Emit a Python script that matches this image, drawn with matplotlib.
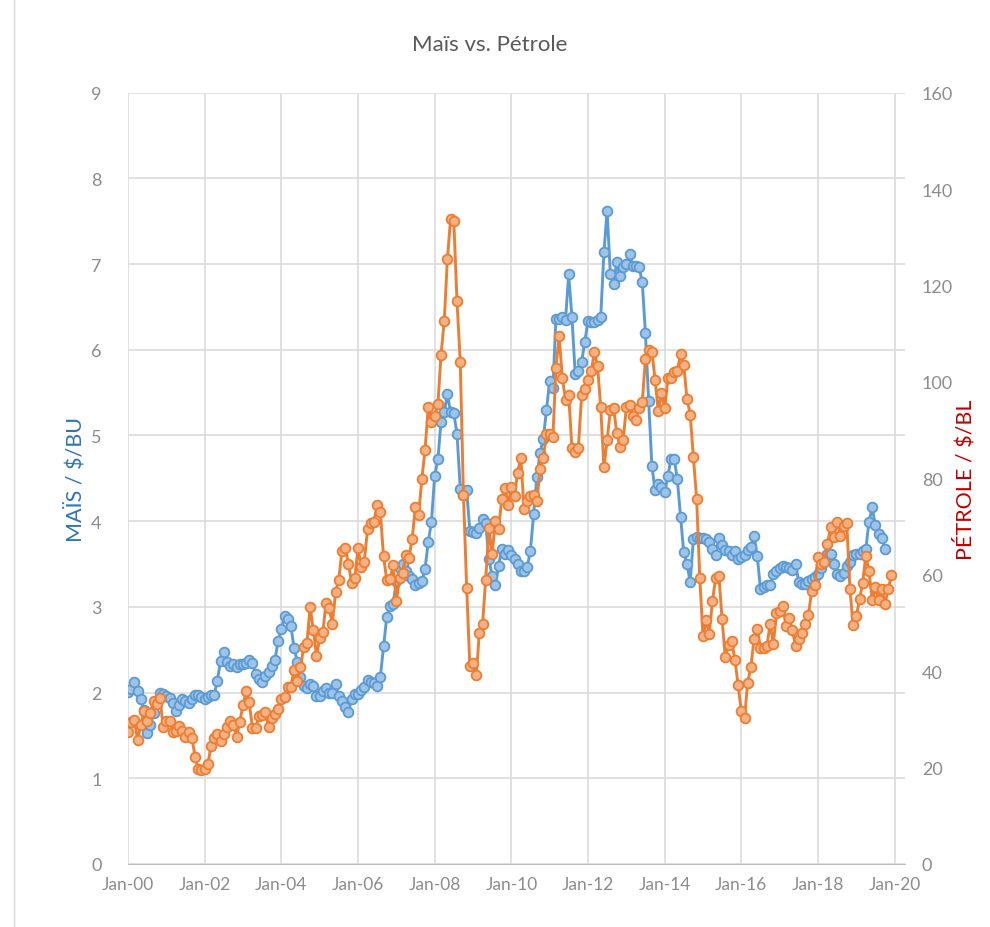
import numpy as np
import pandas as pd
import matplotlib.pyplot as plt
import matplotlib.dates as mdates

# monthly corn price ($/bu), Jan 2000 - Oct 2019
corn = [
    2.01, 2.04, 2.12, 2.02, 1.92, 1.80, 1.53, 1.62, 1.76, 1.88, 2.00, 1.98,  # 2000
    1.96, 1.94, 1.88, 1.78, 1.85, 1.93, 1.90, 1.88, 1.92, 1.97, 1.97, 1.95,  # 2001
    1.93, 1.95, 1.97, 1.97, 2.14, 2.37, 2.47, 2.36, 2.31, 2.33, 2.30, 2.33,  # 2002
    2.33, 2.35, 2.38, 2.34, 2.22, 2.16, 2.12, 2.19, 2.24, 2.31, 2.38, 2.60,  # 2003
    2.74, 2.89, 2.86, 2.78, 2.52, 2.36, 2.18, 2.08, 2.05, 2.10, 2.08, 1.96,  # 2004
    1.96, 2.02, 2.05, 1.99, 2.00, 2.10, 1.96, 1.90, 1.83, 1.77, 1.93, 1.98,  # 2005
    1.98, 2.03, 2.06, 2.15, 2.12, 2.11, 2.08, 2.18, 2.54, 2.88, 3.01, 3.03,  # 2006
    3.30, 3.45, 3.50, 3.42, 3.36, 3.33, 3.25, 3.28, 3.30, 3.44, 3.76, 3.99,  # 2007
    4.53, 4.72, 5.16, 5.27, 5.48, 5.27, 5.26, 5.02, 4.38, 4.30, 4.36, 3.89,  # 2008
    3.87, 3.86, 3.92, 4.03, 3.98, 3.56, 3.36, 3.25, 3.48, 3.68, 3.62, 3.66,  # 2009
    3.60, 3.56, 3.50, 3.42, 3.42, 3.47, 3.65, 4.08, 4.52, 4.80, 4.96, 5.30,  # 2010
    5.64, 5.55, 6.36, 6.36, 6.38, 6.35, 6.88, 6.38, 5.72, 5.75, 5.86, 6.09,  # 2011
    6.34, 6.32, 6.33, 6.35, 6.38, 7.14, 7.62, 6.88, 6.77, 7.02, 6.86, 6.97,  # 2012
    7.00, 7.12, 6.98, 6.98, 6.97, 6.79, 6.20, 5.40, 4.64, 4.36, 4.43, 4.40,  # 2013
    4.34, 4.53, 4.73, 4.73, 4.49, 4.05, 3.64, 3.50, 3.29, 3.79, 3.81, 3.80,  # 2014
    3.80, 3.79, 3.76, 3.68, 3.60, 3.80, 3.72, 3.66, 3.65, 3.60, 3.65, 3.56,  # 2015
    3.58, 3.60, 3.66, 3.70, 3.83, 3.59, 3.21, 3.23, 3.25, 3.25, 3.38, 3.42,  # 2016
    3.45, 3.48, 3.46, 3.45, 3.43, 3.50, 3.29, 3.27, 3.27, 3.30, 3.32, 3.35,  # 2017
    3.38, 3.45, 3.55, 3.62, 3.62, 3.50, 3.38, 3.36, 3.40, 3.48, 3.52, 3.60,  # 2018
    3.62, 3.62, 3.65, 3.67, 3.99, 4.16, 3.95, 3.85, 3.80, 3.68,              # 2019
]

# monthly oil price ($/bl), Jan 2000 - Dec 2019
oil = [
    27.3, 29.4, 29.8, 25.7, 28.8, 31.8, 29.7, 31.3, 33.9, 33.1, 34.4, 28.4,
    29.6, 29.6, 27.3, 27.5, 28.6, 27.6, 26.4, 27.4, 26.2, 22.2, 19.6, 19.4,
    19.7, 20.7, 24.5, 26.2, 27.0, 25.5, 27.0, 28.4, 29.7, 28.8, 26.4, 29.5,
    33.0, 35.8, 33.5, 28.2, 28.1, 30.7, 30.8, 31.6, 28.3, 30.3, 31.1, 32.1,
    34.3, 34.7, 36.7, 36.8, 40.3, 38.0, 40.8, 44.9, 45.9, 53.3, 48.5, 43.2,
    46.8, 48.2, 54.2, 53.0, 49.8, 56.4, 59.0, 65.0, 65.6, 62.3, 58.3, 59.4,
    65.5, 61.6, 62.7, 69.4, 70.8, 71.0, 74.4, 73.0, 63.8, 58.9, 59.1, 62.0,
    54.5, 59.3, 60.4, 64.0, 63.5, 67.5, 74.1, 72.4, 79.9, 85.8, 94.8, 91.7,
    93.0, 95.4, 105.5, 112.6, 125.4, 133.9, 133.4, 116.7, 104.1, 76.6, 57.3, 41.1,
    41.7, 39.1, 47.9, 49.7, 59.0, 69.6, 64.2, 71.1, 69.4, 75.7, 78.0, 74.5,
    78.3, 76.4, 81.2, 84.3, 73.7, 75.3, 76.3, 76.6, 75.2, 81.9, 84.3, 89.2,
    89.2, 88.6, 102.9, 109.5, 100.9, 96.3, 97.3, 86.3, 85.5, 86.3, 97.2, 98.6,
    100.3, 102.2, 106.2, 103.3, 94.7, 82.3, 87.9, 94.1, 94.5, 89.5, 86.5, 87.9,
    94.8, 95.3, 92.9, 92.0, 94.5, 95.8, 104.7, 106.6, 106.3, 100.5, 93.9, 97.6,
    94.6, 100.8, 100.8, 102.1, 102.2, 105.8, 103.6, 96.5, 93.2, 84.4, 75.8, 59.3,
    47.2, 50.6, 47.8, 54.5, 59.3, 59.8, 50.9, 42.9, 45.5, 46.2, 42.4, 37.2,
    31.7, 30.3, 37.6, 40.8, 46.7, 48.8, 44.7, 44.7, 45.2, 49.8, 45.7, 52.0,
    52.5, 53.5, 49.3, 51.1, 48.5, 45.2, 46.6, 48.0, 49.8, 51.6, 56.6, 57.9,
    63.7, 62.2, 62.7, 66.3, 70.0, 67.9, 71.0, 68.1, 70.2, 70.8, 57.0, 49.5,
    51.4, 55.0, 58.2, 63.9, 60.8, 54.7, 57.4, 54.8, 57.0, 54.0, 57.0, 59.9,
]

months = pd.date_range("2000-01-01", periods=len(oil), freq="MS")

plt.rcParams['font.family'] = ['Lato', 'DejaVu Sans']
grey = '#8c8c8c'
grid_c = '#d9d9d9'

fig = plt.figure(figsize=(9.9, 9.28), dpi=100)
ax = fig.add_axes([0.1293, 0.068, 0.785, 0.831])
ax2 = ax.twinx()

ax.plot(months[:len(corn)], corn, color='#5b9bd5', lw=2.1, marker='o', ms=7,
        mfc='#9dc3e6', mec='#5b9bd5', mew=1.3, zorder=3)
ax2.plot(months, oil, color='#ed7d31', lw=2.1, marker='o', ms=7,
         mfc='#f4b183', mec='#ed7d31', mew=1.3, zorder=3)

ax.set_xlim(pd.Timestamp("2000-01-01"), pd.Timestamp("2020-04-10"))
ax.set_ylim(0, 9)
ax2.set_ylim(0, 160)
ax.set_yticks(range(0, 10))
ax2.set_yticks(range(0, 161, 20))

ax.xaxis.set_major_locator(mdates.YearLocator(2, month=1, day=1))
ax.xaxis.set_major_formatter(mdates.DateFormatter('%b-%y'))

ax.grid(True, color=grid_c, lw=1.1)
ax.set_axisbelow(True)
for a in (ax, ax2):
    for s in a.spines.values():
        s.set_visible(False)
ax.spines['bottom'].set_visible(True)
ax.spines['bottom'].set_color('#bfbfbf')

ax.tick_params(axis='x', length=0, pad=9, labelsize=12.5, labelcolor=grey)
ax.tick_params(axis='y', length=0, pad=19, labelsize=13, labelcolor=grey)
ax2.tick_params(axis='y', length=0, pad=12, labelsize=13, labelcolor=grey)

ax.set_ylabel('MAÏS / $/BU', color='#2e75b6', fontsize=15.5, labelpad=4)
ax2.set_ylabel('PÉTROLE / $/BL', color='#c00000', fontsize=15.5, labelpad=0)

fig.text(0.495, 0.951, 'Maïs vs. Pétrole', ha='center', va='center',
         fontsize=16, color='#595959')

# thin chart frame on the left edge
fig.add_artist(plt.Line2D([0.0145, 0.0145], [0, 1], transform=fig.transFigure,
                          color='#d9d9d9', lw=1))

fig.savefig('out.png', dpi=100)
